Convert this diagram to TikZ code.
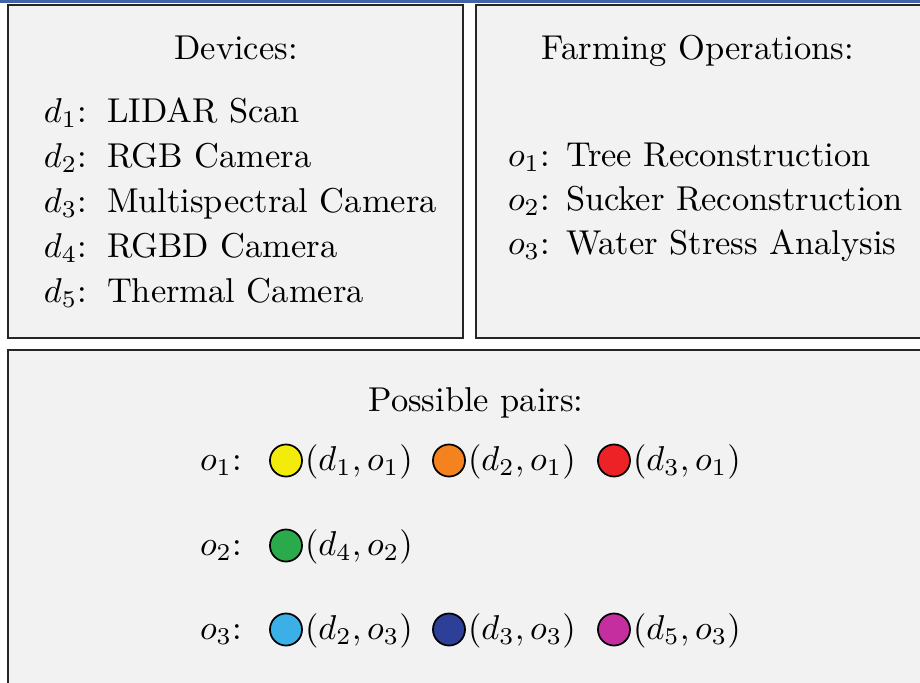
\documentclass[tikz,border=0pt]{standalone}
\definecolor{boxfill}{HTML}{F2F2F2}
\definecolor{topblue}{HTML}{4163A8}
\definecolor{cyel}{HTML}{F3EC0A}
\definecolor{corg}{HTML}{F4821F}
\definecolor{cred}{HTML}{EC2227}
\definecolor{cgrn}{HTML}{2AAA4A}
\definecolor{clbl}{HTML}{3AB0E6}
\definecolor{cdbl}{HTML}{2E3F98}
\definecolor{cmag}{HTML}{C42E9F}
\tikzset{
  panel/.style={draw=black!85, fill=boxfill, line width=0.6pt},
  txt/.style={anchor=base west, inner sep=0pt, outer sep=0pt},
  ttl/.style={anchor=base, inner sep=0pt, outer sep=0pt},
  dot/.style={circle, draw=black, line width=0.5pt, minimum size=9.3pt, inner sep=0pt}
}
\begin{document}
\begin{tikzpicture}[x=0.29pt, y=-0.29pt]
\useasboundingbox (0,0) rectangle (920,682);
\fill[white] (0,0) rectangle (920,682);
\fill[topblue] (0,0) rectangle (920,2.5);
% panels
\draw[panel] (8,5) rectangle (463,338);
\draw[panel] (476,5) rectangle (930,338);
\draw[panel] (8,350) rectangle (930,700);
% devices
\node[ttl] (devt) at (236,59) {Devices:};
\foreach \i/\t [count=\k] in {1/LIDAR Scan,2/RGB Camera,3/Multispectral Camera,4/RGBD Camera,5/Thermal Camera}{
  \node[txt] (dl\i) at (44,{122+45*(\k-1)}) {$d_{\i}$:};
  \node[txt] (dt\i) at (107,{122+45*(\k-1)}) {\t};
}
% operations
\node[ttl] (opt) at (698,59) {Farming Operations:};
\foreach \i/\t [count=\k] in {1/Tree Reconstruction,2/Sucker Reconstruction,3/Water Stress Analysis}{
  \node[txt] (ol\i) at (508,{166+44*(\k-1)}) {$o_{\i}$:};
  \node[txt] (ot\i) at (566,{166+44*(\k-1)}) {\t};
}
% pairs
\node[ttl] (ppt) at (476,411) {Possible pairs:};
\node[txt] (pl1) at (200,470) {$o_1$:};
\node[txt] (pl2) at (200,555) {$o_2$:};
\node[txt] (pl3) at (200,639) {$o_3$:};
% row 1
\node[dot, fill=cyel] (c11) at (286,460.5) {};
\node[txt] (p11) at (305,470) {$(d_1,o_1)$};
\node[dot, fill=corg] (c12) at (449,460.5) {};
\node[txt] (p12) at (468,470) {$(d_2,o_1)$};
\node[dot, fill=cred] (c13) at (614,460.5) {};
\node[txt] (p13) at (633,470) {$(d_3,o_1)$};
% row 2
\node[dot, fill=cgrn] (c21) at (286,545.5) {};
\node[txt] (p21) at (305,555) {$(d_4,o_2)$};
% row 3
\node[dot, fill=clbl] (c31) at (286,629.5) {};
\node[txt] (p31) at (305,639) {$(d_2,o_3)$};
\node[dot, fill=cdbl] (c32) at (449,629.5) {};
\node[txt] (p32) at (468,639) {$(d_3,o_3)$};
\node[dot, fill=cmag] (c33) at (614,629.5) {};
\node[txt] (p33) at (633,639) {$(d_5,o_3)$};
\end{tikzpicture}
\end{document}
